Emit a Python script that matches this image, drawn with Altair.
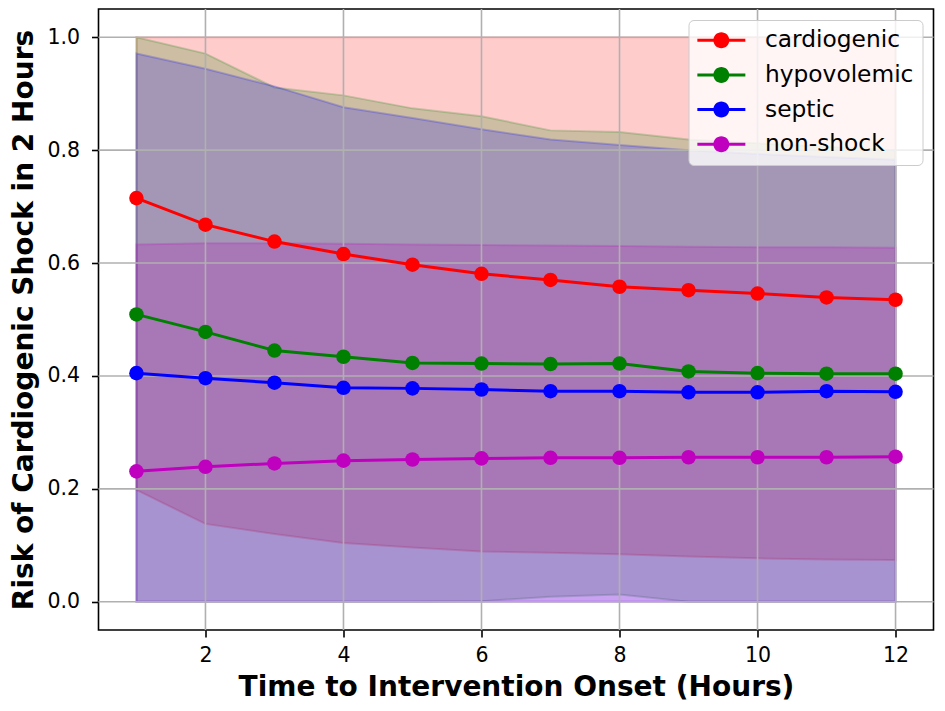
import altair as alt
import pandas as pd

hours = [1, 2, 3, 4, 5, 6, 7, 8, 9, 10, 11, 12]
series = ["cardiogenic", "hypovolemic", "septic", "non-shock"]
colors = ["#ff0000", "#008000", "#0000ff", "#bf00bf"]

cardiogenic_mean = [0.715, 0.668, 0.638, 0.616, 0.597, 0.581, 0.570, 0.558, 0.552, 0.546, 0.539, 0.535]
cardiogenic_lo = [0.198, 0.138, 0.120, 0.104, 0.096, 0.089, 0.087, 0.084, 0.080, 0.077, 0.075, 0.074]
cardiogenic_hi = [1.0, 1.0, 1.0, 1.0, 1.0, 1.0, 1.0, 1.0, 1.0, 1.0, 1.0, 1.0]

hypovolemic_mean = [0.509, 0.478, 0.445, 0.434, 0.423, 0.422, 0.421, 0.422, 0.408, 0.405, 0.404, 0.404]
hypovolemic_lo = [0.0, 0.0, 0.0, 0.0, 0.0, 0.001, 0.009, 0.013, 0.0, 0.0, 0.0, 0.0]
hypovolemic_hi = [1.0, 0.971, 0.911, 0.897, 0.874, 0.860, 0.835, 0.832, 0.819, 0.812, 0.806, 0.800]

septic_mean = [0.405, 0.396, 0.388, 0.379, 0.378, 0.376, 0.373, 0.373, 0.371, 0.371, 0.373, 0.372]
septic_lo = [0.0, 0.0, 0.0, 0.0, 0.0, 0.0, 0.0, 0.0, 0.0, 0.0, 0.0, 0.0]
septic_hi = [0.971, 0.944, 0.913, 0.876, 0.857, 0.837, 0.819, 0.809, 0.800, 0.793, 0.788, 0.783]

nonshock_mean = [0.231, 0.239, 0.245, 0.250, 0.252, 0.254, 0.255, 0.255, 0.256, 0.256, 0.256, 0.257]
nonshock_lo = [0.0, 0.0, 0.0, 0.0, 0.0, 0.0, 0.0, 0.0, 0.0, 0.0, 0.0, 0.0]
nonshock_hi = [0.633, 0.635, 0.635, 0.634, 0.633, 0.632, 0.631, 0.630, 0.629, 0.628, 0.628, 0.627]

x_ticks = [2, 4, 6, 8, 10, 12]
y_ticks = [0.0, 0.2, 0.4, 0.6, 0.8, 1.0]

x_title = "Time to Intervention Onset (Hours)"
y_title = "Risk of Cardiogenic Shock in 2 Hours"

means = [cardiogenic_mean, hypovolemic_mean, septic_mean, nonshock_mean]
los = [cardiogenic_lo, hypovolemic_lo, septic_lo, nonshock_lo]
his = [cardiogenic_hi, hypovolemic_hi, septic_hi, nonshock_hi]

rows = []
for s, m, lo, hi in zip(series, means, los, his):
    for h, mv, lv, hv in zip(hours, m, lo, hi):
        rows.append({"series": s, "hour": h, "mean": mv, "lo": lv, "hi": hv})
df = pd.DataFrame(rows)

xgrid = pd.DataFrame({"v": x_ticks})
ygrid = pd.DataFrame({"v": y_ticks})

xscale = alt.Scale(domain=[0.45, 12.55], nice=False, zero=False)
yscale = alt.Scale(domain=[-0.05, 1.05], nice=False, zero=False)

x_axis = alt.Axis(
    title=x_title, values=x_ticks, format="d", grid=False,
    titleY=65, titleBaseline="alphabetic", labelPadding=8,
)
y_axis = alt.Axis(
    title=y_title, values=y_ticks, format=".1f", grid=False,
    titleX=-66, titleBaseline="alphabetic", labelPadding=12,
)


def X(field):
    return alt.X(field, type="quantitative", scale=xscale, axis=x_axis)


def Y(field):
    return alt.Y(field, type="quantitative", scale=yscale, axis=y_axis)


color_scale = alt.Scale(domain=series, range=colors)

legend_path = (
    "M-3,-0.19 L3,-0.19 L3,0.19 L-3,0.19 Z "
    "M-1,0 A1,1 0 1,1 1,0 A1,1 0 1,1 -1,0 Z"
)
legend = alt.Legend(
    title=None,
    orient="none",
    legendX=590,
    legendY=11,
    symbolType=legend_path,
    symbolSize=256,
    symbolStrokeWidth=0,
    symbolOpacity=1,
    symbolOffset=12.5,
    labelOffset=32,
    labelFontSize=23.3,
    labelFont="DejaVu Sans",
    labelColor="black",
    labelLimit=400,
    rowPadding=10.6,
    padding=8.7,
    fillColor="rgba(255,255,255,0.8)",
    strokeColor="#cccccc",
    cornerRadius=5,
)

layers = []
# confidence bands
for s, c in zip(series, colors):
    layers.append(
        alt.Chart(df).transform_filter(alt.datum.series == s).mark_area(
            fill=c, fillOpacity=0.2, stroke=c, strokeOpacity=0.2, strokeWidth=2
        ).encode(x=X("hour"), y=Y("hi"), y2=alt.Y2("lo"))
    )

# grid lines
layers.append(
    alt.Chart(xgrid).mark_rule(color="#b0b0b0", strokeWidth=1.6).encode(x=X("v"))
)
layers.append(
    alt.Chart(ygrid).mark_rule(color="#b0b0b0", strokeWidth=1.6).encode(y=Y("v"))
)

# mean lines with markers
for s, c in zip(series, colors):
    base = alt.Chart(df).transform_filter(alt.datum.series == s)
    layers.append(
        base.mark_line(color=c, strokeWidth=3).encode(x=X("hour"), y=Y("mean"))
    )
    layers.append(
        base.mark_point(filled=True, size=211, opacity=1, strokeWidth=0).encode(
            x=X("hour"),
            y=Y("mean"),
            color=alt.Color("series:N", scale=color_scale, legend=legend),
        )
    )

chart = alt.layer(*layers).properties(
    width=835,
    height=621,
    padding={"left": 90.5, "top": 1, "right": 2, "bottom": 73},
    autosize=alt.AutoSizeParams(type="none"),
).configure(
    font="DejaVu Sans",
).configure_view(
    stroke="black", strokeWidth=1.6,
).configure_axis(
    domain=False,
    tickColor="black",
    tickWidth=1.6,
    tickSize=7,
    labelFont="DejaVu Sans",
    labelFontSize=20.5,
    labelColor="black",
    titleFont="DejaVu Sans",
    titleFontSize=28,
    titleFontWeight="bold",
    titleColor="black",
)

chart.save("out.html", embed_options={"renderer": "svg", "actions": False})
